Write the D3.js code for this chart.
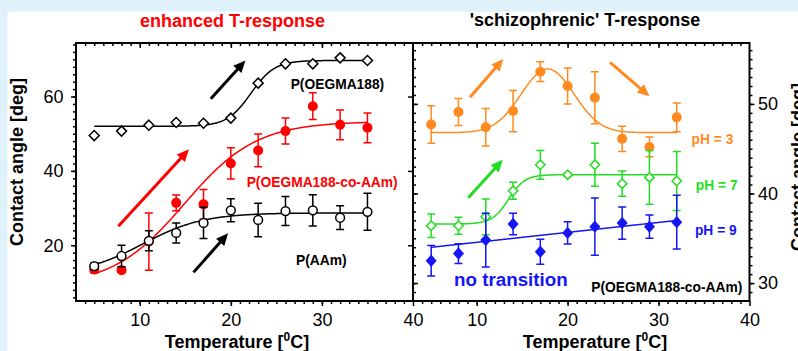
<!DOCTYPE html>
<html>
<head>
<meta charset="utf-8">
<script src="https://cdn.jsdelivr.net/npm/d3@7"></script>
<style>
  html, body { margin: 0; padding: 0; background: #dff2fa; }
  svg { display: block; }
  text { font-family: "Liberation Sans", Arial, Helvetica, sans-serif; }
</style>
</head>
<body>
<svg id="chart" width="798" height="351"></svg>
<script>
// ---------- data: contact angle [deg] vs temperature [°C] ----------
const temps = [5, 8, 11, 14, 17, 20, 23, 26, 29, 32, 35];

// P(OEGMA188) homopolymer brush
const oegma188 = [49.5, 50.7, 52.3, 53.0, 52.8, 54.2, 63.6, 68.8, 68.8, 70.4, 69.7];

// P(OEGMA188-co-AAm) copolymer brush
const copolymer = [13.5, 13.3, 21.0, 31.4, 31.0, 42.0, 45.5, 50.7, 57.4, 52.4, 51.6];
const copolymerErr = [1.0, 0.0, 7.7, 2.1, 4.0, 4.2, 4.4, 3.5, 3.6, 4.0, 4.0];

// P(AAm) homopolymer brush
const aam = [14.4, 17.1, 21.2, 23.3, 26.0, 29.4, 26.8, 29.2, 29.4, 27.4, 29.0];
const aamErr = [0.8, 2.9, 2.7, 2.7, 4.2, 3.1, 4.5, 3.9, 4.2, 3.2, 5.0];

// P(OEGMA188-co-AAm) at different pH
const tempsPH = [5, 8, 11, 14, 17, 20, 23, 26, 29, 32];
const pH3 = [47.7, 49.1, 47.4, 49.2, 53.6, 52.0, 50.7, 46.1, 45.2, 48.5];
const pH3Err = [2.1, 1.5, 2.1, 2.3, 1.1, 2.0, 2.9, 1.4, 1.1, 1.6];
const pH7 = [36.4, 36.4, 37.4, 40.3, 43.2, 42.1, 43.2, 41.1, 41.8, 41.4];
const pH7Err = [1.3, 0.95, 2.0, 0.95, 1.6, 0.2, 2.4, 1.4, 3.0, 3.3];
const pH9 = [32.5, 33.3, 34.8, 36.6, 33.5, 35.6, 36.3, 36.7, 36.3, 36.8];
const pH9Err = [1.7, 1.1, 3.0, 1.2, 1.4, 1.25, 3.2, 1.8, 1.3, 3.0];

// fitted model parameters
const oegma188Fit = [52.0, 69.7, 22.2, 1.3];   // Boltzmann: A1, A2, x0, dx
const copolymerFit = [9.0, 53.3, 14.9, 3.95];  // Boltzmann
const aamFit = [12.0, 28.7, 10.33, 3.3];       // Boltzmann
const pH3Fit = [46.8, 7.1, 17.8, 2.9];         // Gauss: y0, A, xc, w
const pH7Fit = [36.6, 42.1, 13.5, 0.9];        // Boltzmann
const pH9Fit = [33.44, 0.111];                 // linear: intercept, slope
const fitRange = [5, 35];
const fitRangePH = [5, 32];

// axis ticks
const xMajor = [10, 20, 30, 40];
const yLeftMajor = [20, 40, 60];
const yRightMajor = [30, 40, 50];

(function () {
// ---------- helpers ----------
const boltzmann = p => x => p[1] + (p[0] - p[1]) / (1 + Math.exp((x - p[2]) / p[3]));
const gauss = p => x => p[0] + p[1] * Math.exp(-((x - p[2]) ** 2) / (2 * p[3] * p[3]));
const linear = p => x => p[0] + p[1] * x;

const diamond = (hw, hh) => ({
  draw(ctx) {
    ctx.moveTo(0, -hh); ctx.lineTo(hw, 0); ctx.lineTo(0, hh); ctx.lineTo(-hw, 0); ctx.closePath();
  }
});
const circle = r => ({ draw(ctx) { ctx.moveTo(r, 0); ctx.arc(0, 0, r, 0, 2 * Math.PI); } });

const svg = d3.select("#chart");
const FONT = '"Liberation Sans", Arial, Helvetica, sans-serif';

svg.append("rect").attr("x", 7.5).attr("y", 11.7).attr("width", 798).attr("height", 351).attr("fill", "#ffffff");

const plotTop = 43, plotBottom = 301;
const xL = d3.scaleLinear([3, 40], [76, 413]);
const yL = d3.scaleLinear([5, 74.4], [plotBottom, plotTop]);
const xR = d3.scaleLinear([3, 40], [413, 749.5]);
const yR = d3.scaleLinear([28, 56.8], [plotBottom, plotTop]);

function styleAxis(g) {
  g.select(".domain").remove();
  g.selectAll(".tick line").attr("stroke", "#000").attr("stroke-width", 1.5);
  g.selectAll(".tick text").attr("font-family", FONT).attr("font-size", 18).attr("fill", "#000");
  return g;
}
function addAxis(axis, tx, ty) {
  return svg.append("g").attr("transform", `translate(${tx},${ty})`).call(axis).call(styleAxis);
}

// ---------- axes ----------
// left panel
addAxis(d3.axisBottom(xL).tickValues(d3.range(4, 40)).tickSize(3).tickFormat(""), 0, plotBottom);
addAxis(d3.axisBottom(xL).tickValues(xMajor).tickSize(5).tickPadding(7).tickFormat(d3.format("d")), 0, plotBottom);
addAxis(d3.axisTop(xL).tickValues(d3.range(4, 40)).tickSize(-3).tickFormat(""), 0, plotTop);
addAxis(d3.axisTop(xL).tickValues(xMajor.slice(0, 3)).tickSize(-5).tickFormat(""), 0, plotTop);
addAxis(d3.axisLeft(yL).tickValues(d3.range(6, 75, 2)).tickSize(3).tickFormat(""), 76, 0);
addAxis(d3.axisLeft(yL).tickValues(yLeftMajor).tickSize(5).tickPadding(7.5).tickFormat(d3.format("d")), 76, 0);
addAxis(d3.axisRight(yL).tickValues(yLeftMajor).tickSize(-5).tickFormat(""), 413, 0);
// right panel
addAxis(d3.axisBottom(xR).tickValues(d3.range(4, 40)).tickSize(3).tickFormat(""), 0, plotBottom);
addAxis(d3.axisBottom(xR).tickValues(xMajor).tickSize(5).tickPadding(7).tickFormat(d3.format("d")), 0, plotBottom);
addAxis(d3.axisTop(xR).tickValues(d3.range(4, 40)).tickSize(-3).tickFormat(""), 0, plotTop);
addAxis(d3.axisTop(xR).tickValues(xMajor.slice(0, 3)).tickSize(-5).tickFormat(""), 0, plotTop);
addAxis(d3.axisLeft(yR).tickValues(d3.range(29, 57)).tickSize(-3).tickFormat(""), 413, 0);
addAxis(d3.axisLeft(yR).tickValues(yRightMajor).tickSize(-5).tickFormat(""), 413, 0);
addAxis(d3.axisRight(yR).tickValues(d3.range(29, 57)).tickSize(3).tickFormat(""), 749.5, 0);
addAxis(d3.axisRight(yR).tickValues(yRightMajor).tickSize(5).tickPadding(3.5).tickFormat(d3.format("d")), 749.5, 0);

// ---------- drawing helpers ----------
function fitCurve(g, xs, ys, f, range, color) {
  const pts = d3.range(range[0], range[1] + 0.001, 0.1).map(x => [x, f(x)]);
  g.append("path").datum(pts)
    .attr("d", d3.line().x(d => xs(d[0])).y(d => ys(d[1])))
    .attr("fill", "none").attr("stroke", color).attr("stroke-width", 1.5);
}
function errorBars(g, xs, ys, tx, vals, errs, color) {
  const rows = tx.map((t, i) => ({ t, v: vals[i], e: errs[i] }));
  const eg = g.append("g").attr("stroke", color).attr("stroke-width", 1.5).attr("fill", "none");
  eg.selectAll("path").data(rows).join("path")
    .attr("d", d => {
      const x = xs(d.t), y1 = ys(d.v + d.e), y2 = ys(d.v - d.e);
      return `M${x},${y1}V${y2}M${x - 4},${y1}H${x + 4}M${x - 4},${y2}H${x + 4}`;
    });
}
function markers(g, xs, ys, tx, vals, type, fill, stroke) {
  g.append("g").selectAll("path").data(tx.map((t, i) => [t, vals[i]])).join("path")
    .attr("transform", d => `translate(${xs(d[0])},${ys(d[1])})`)
    .attr("d", d3.symbol(type))
    .attr("fill", fill).attr("stroke", stroke).attr("stroke-width", 1.5);
}
function arrow(g, xs, ys, from, to, color) {
  const x1 = xs(from[0]), y1 = ys(from[1]), x2 = xs(to[0]), y2 = ys(to[1]);
  const a = Math.atan2(y2 - y1, x2 - x1), L = 12, W = 5.5;
  const bx = x2 - L * Math.cos(a), by = y2 - L * Math.sin(a);
  g.append("line").attr("x1", x1).attr("y1", y1).attr("x2", bx + Math.cos(a)).attr("y2", by + Math.sin(a))
    .attr("stroke", color).attr("stroke-width", 3);
  g.append("path")
    .attr("d", `M${x2},${y2}L${bx - W * Math.sin(a)},${by + W * Math.cos(a)}L${bx + W * Math.sin(a)},${by - W * Math.cos(a)}Z`)
    .attr("fill", color);
}
function label(g, x, y, txt, color, size, anchor = "start") {
  g.append("text").attr("x", x).attr("y", y).attr("fill", color)
    .attr("font-size", size).attr("font-weight", "bold").attr("text-anchor", anchor).text(txt);
}

const RED = "#ff0000", ORANGE = "#ff8a1f", GREEN = "#22dd22", BLUE = "#1515f5";

// ---------- left panel: enhanced T-response ----------
const gl = svg.append("g");
fitCurve(gl, xL, yL, boltzmann(oegma188Fit), fitRange, "#000");
markers(gl, xL, yL, temps, oegma188, diamond(5, 5), "#fff", "#000");

fitCurve(gl, xL, yL, boltzmann(copolymerFit), fitRange, RED);
errorBars(gl, xL, yL, temps, copolymer, copolymerErr, RED);
markers(gl, xL, yL, temps, copolymer, circle(5), RED, "none");

fitCurve(gl, xL, yL, boltzmann(aamFit), fitRange, "#000");
errorBars(gl, xL, yL, temps, aam, aamErr, "#000");
markers(gl, xL, yL, temps, aam, circle(4.4), "#fff", "#000");

arrow(gl, xL, yL, [17.8, 59.4], [21.6, 69.7], "#000");
arrow(gl, xL, yL, [7.65, 25.1], [15.4, 45.8], RED);
arrow(gl, xL, yL, [15.9, 12.7], [19.7, 23.2], "#000");

label(gl, xL(26.57), yL(62.0), "P(OEGMA188)", "#000", 13.8);
label(gl, xL(21.74), yL(35.7), "P(OEGMA188-co-AAm)", RED, 13.8);
label(gl, xL(27.15), yL(14.8), "P(AAm)", "#000", 13.8);

// ---------- right panel: 'schizophrenic' T-response ----------
const gr = svg.append("g");
fitCurve(gr, xR, yR, gauss(pH3Fit), fitRangePH, ORANGE);
errorBars(gr, xR, yR, tempsPH, pH3, pH3Err, ORANGE);
markers(gr, xR, yR, tempsPH, pH3, circle(5), ORANGE, "none");

fitCurve(gr, xR, yR, boltzmann(pH7Fit), fitRangePH, GREEN);
errorBars(gr, xR, yR, tempsPH, pH7, pH7Err, GREEN);
markers(gr, xR, yR, tempsPH, pH7, diamond(4.7, 4.7), "#fff", GREEN);

fitCurve(gr, xR, yR, linear(pH9Fit), fitRangePH, BLUE);
errorBars(gr, xR, yR, tempsPH, pH9, pH9Err, BLUE);
markers(gr, xR, yR, tempsPH, pH9, diamond(5.5, 6.2), BLUE, "none");

arrow(gr, xR, yR, [9.27, 50.74], [12.93, 55.02], ORANGE);
arrow(gr, xR, yR, [24.67, 54.64], [29.0, 50.85], ORANGE);
arrow(gr, xR, yR, [9.08, 39.53], [12.87, 43.76], GREEN);

label(gr, xR(33.63), yR(45.55), "pH = 3", ORANGE, 13.8);
label(gr, xR(34.1), yR(40.4), "pH = 7", GREEN, 13.8);
label(gr, xR(34.0), yR(35.4), "pH = 9", BLUE, 13.8);
label(gr, xR(7.51), yR(29.65), "no transition", BLUE, 18.8);
label(gr, xR(22.6), yR(29.05), "P(OEGMA188-co-AAm)", "#000", 13.8);

// ---------- frames ----------
svg.append("rect").attr("x", 76).attr("y", plotTop).attr("width", 413 - 76).attr("height", plotBottom - plotTop)
  .attr("fill", "none").attr("stroke", "#000").attr("stroke-width", 2);
svg.append("rect").attr("x", 413).attr("y", plotTop).attr("width", 749.5 - 413).attr("height", plotBottom - plotTop)
  .attr("fill", "none").attr("stroke", "#000").attr("stroke-width", 2);

// ---------- titles and axis labels ----------
label(svg, 232.5, 27.3, "enhanced T-response", RED, 18, "middle");
label(svg, 585, 25.5, "'schizophrenic' T-response", "#000", 18, "middle");

function tempLabel(cx) {
  const t = svg.append("text").attr("x", cx).attr("y", 348).attr("text-anchor", "middle")
    .attr("font-size", 18).attr("font-weight", "bold").attr("fill", "#000");
  t.append("tspan").text("Temperature [");
  t.append("tspan").attr("font-size", 12).attr("dy", -7).text("0");
  t.append("tspan").attr("dy", 7).text("C]");
}
tempLabel(237);
tempLabel(595);

svg.append("text").attr("transform", "translate(23.3,162) rotate(-90)").attr("text-anchor", "middle")
  .attr("font-size", 18).attr("font-weight", "bold").attr("fill", "#000").text("Contact angle [deg]");
svg.append("text").attr("transform", "translate(803.5,167) rotate(-90)").attr("text-anchor", "middle")
  .attr("font-size", 18).attr("font-weight", "bold").attr("fill", "#000").text("Contact angle [deg]");
})();
</script>
</body>
</html>
